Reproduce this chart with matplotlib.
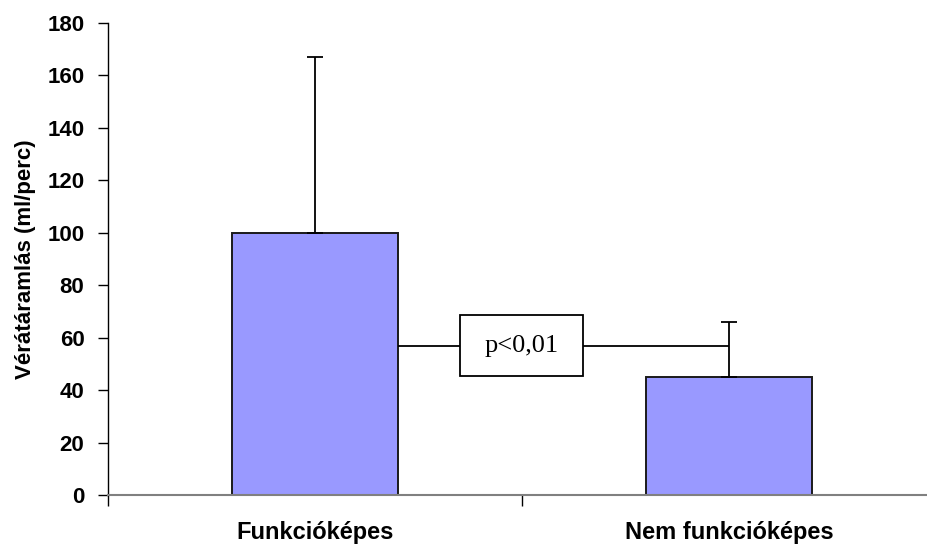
import matplotlib
matplotlib.use("Agg")
import matplotlib.pyplot as plt
from matplotlib.patches import Rectangle

# blood flow per group (mean and upper SD)
groups = ["Funkcióképes", "Nem funkcióképes"]
flow_mean = [100, 45]
flow_sd = [67, 21]
p_label = "p<0,01"
p_line_level = 57

BAR_COLOR = "#9999ff"
SANS = "Liberation Sans"
SERIF = "Liberation Serif"

fig = plt.figure(figsize=(9.28, 5.46), dpi=100)
ax = fig.add_axes([108 / 928, 51 / 546, 828 / 928, 472 / 546])

x = list(range(len(groups)))
ax.bar(x, flow_mean, width=0.4, color=BAR_COLOR, edgecolor="#1a1a1a",
       linewidth=1.4, zorder=2)
ax.errorbar(x, flow_mean, yerr=[[0] * len(flow_sd), flow_sd], fmt="none",
            ecolor="black", elinewidth=1.3, capsize=6, capthick=1.3, zorder=3)

# significance bracket: bar 1 edge -> bar 2 error bar, label boxed in the middle
ax.plot([0.2, 1.0], [p_line_level, p_line_level], color="black", lw=1.3,
        zorder=3, solid_capstyle="butt")
ax.add_patch(Rectangle((0.351, 45.2), 0.296, 23.4, facecolor="white",
                       edgecolor="black", lw=1.3, zorder=4))
ax.text(0.5, p_line_level, p_label, ha="center", va="center",
        fontsize=19, family=SERIF, zorder=5)

ax.set_ylim(0, 180)
ax.set_xlim(-0.5, 1.5)
ax.set_yticks(range(0, 181, 20))
ax.set_yticklabels([str(v) for v in range(0, 181, 20)], fontsize=16,
                   fontweight="bold", family=SANS)
ax.tick_params(axis="y", direction="out", length=7, width=1, pad=10)

# category separators as ticks, names centred under bars
ax.set_xticks([-0.5, 0.5, 1.5])
ax.set_xticklabels(["", "", ""])
ax.tick_params(axis="x", which="major", direction="out", length=8, width=1)
ax.set_xticks(x, minor=True)
ax.set_xticklabels(groups, minor=True, fontsize=17, fontweight="bold",
                   family=SANS)
ax.tick_params(axis="x", which="minor", length=0, pad=19)

ax.set_ylabel("Vérátáramlás (ml/perc)", fontsize=16, fontweight="bold",
              family=SANS, labelpad=8)

for side in ("top", "right"):
    ax.spines[side].set_visible(False)
ax.spines["left"].set_color("black")
ax.spines["left"].set_linewidth(1)
ax.spines["bottom"].set_color("#808080")
ax.spines["bottom"].set_linewidth(1.5)

fig.savefig("out.png", dpi=100)
